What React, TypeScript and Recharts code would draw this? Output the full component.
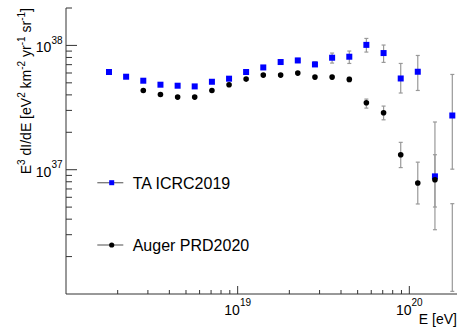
import React from 'react';
import { ScatterChart, Scatter, XAxis, YAxis, ErrorBar, Label } from 'recharts';

// bin centres, log10(E/eV) = 18.25 ... 20.25
const taEnergy = [
  1.78e18, 2.24e18, 2.82e18, 3.55e18, 4.47e18, 5.62e18, 7.08e18, 8.91e18,
  1.12e19, 1.41e19, 1.78e19, 2.24e19, 2.82e19, 3.55e19, 4.47e19, 5.62e19,
  7.08e19, 8.91e19, 1.12e20, 1.41e20, 1.78e20,
];
const taFlux = [
  6.11e37, 5.6e37, 5.2e37, 4.83e37, 4.74e37, 4.68e37, 5.1e37, 5.4e37,
  6.11e37, 6.65e37, 7.35e37, 7.57e37, 7.03e37, 7.96e37, 8.11e37, 1.01e38,
  8.68e37, 5.42e37, 6.14e37, 8.84e36, 2.73e37,
];
const taLow = [
  5.95e37, 5.46e37, 5.07e37, 4.71e37, 4.62e37, 4.56e37, 4.97e37, 5.26e37,
  5.94e37, 6.45e37, 7.1e37, 7.28e37, 6.78e37, 7.21e37, 7.16e37, 8.84e37,
  7.3e37, 4.14e37, 4.34e37, 3.29e36, 1.01e37,
];
const taHigh = [
  6.27e37, 5.74e37, 5.33e37, 4.95e37, 4.86e37, 4.8e37, 5.23e37, 5.54e37,
  6.28e37, 6.85e37, 7.6e37, 7.86e37, 7.39e37, 8.68e37, 9.01e37, 1.138e38,
  1.007e38, 7.16e37, 8.3e37, 2.42e37, 5.84e37,
];

// log10(E/eV) = 18.45 ... 20.25 ; last bin is empty (only an upper bar shows)
const augerEnergy = [
  2.82e18, 3.55e18, 4.47e18, 5.62e18, 7.08e18, 8.91e18, 1.12e19, 1.41e19,
  1.78e19, 2.24e19, 2.82e19, 3.55e19, 4.47e19, 5.62e19, 7.08e19, 8.91e19,
  1.12e20, 1.41e20, 1.78e20,
];
const augerFlux = [
  4.34e37, 4.03e37, 3.84e37, 3.84e37, 4.34e37, 4.83e37, 5.36e37, 5.77e37,
  5.77e37, 5.99e37, 5.56e37, 5.56e37, 5.33e37, 3.46e37, 2.87e37, 1.32e37,
  7.82e36, 8.31e36, 1e35,
];
const augerLow = [
  4.24e37, 3.93e37, 3.75e37, 3.75e37, 4.24e37, 4.72e37, 5.24e37, 5.63e37,
  5.63e37, 5.84e37, 5.4e37, 5.38e37, 5.12e37, 3.13e37, 2.52e37, 1.04e37,
  5.3e36, 5.01e36, 1.05e36,
];
const augerHigh = [
  4.44e37, 4.13e37, 3.93e37, 3.93e37, 4.44e37, 4.94e37, 5.48e37, 5.91e37,
  5.91e37, 6.14e37, 5.72e37, 5.74e37, 5.54e37, 3.7e37, 3.25e37, 1.66e37,
  1.15e37, 1.32e37, 5.33e36,
];

const xTicks = [
  2e18, 3e18, 4e18, 5e18, 6e18, 7e18, 8e18, 9e18, 1e19,
  2e19, 3e19, 4e19, 5e19, 6e19, 7e19, 8e19, 9e19, 1e20, 2e20,
];
const yTicks = [
  2e36, 3e36, 4e36, 5e36, 6e36, 7e36, 8e36, 9e36, 1e37,
  2e37, 3e37, 4e37, 5e37, 6e37, 7e37, 8e37, 9e37, 1e38, 2e38,
];

const taData = taEnergy.map((e, i) => ({
  e,
  flux: taFlux[i],
  err: [taFlux[i] - taLow[i], taHigh[i] - taFlux[i]],
}));
const augerData = augerEnergy.map((e, i) => ({
  e,
  flux: augerFlux[i],
  err: [augerFlux[i] - augerLow[i], augerHigh[i] - augerFlux[i]],
}));

const font = '"Liberation Sans", Arial, Helvetica, sans-serif';
const axisColor = '#333';
const barColor = '#999';

const decade = (v: number) => {
  const l = Math.log10(v);
  return Math.abs(l - Math.round(l)) < 1e-6 ? Math.round(l) : null;
};

const XTick = (props: any) => {
  const { x, y, payload } = props;
  const exp = decade(payload.value);
  return (
    <g>
      <line x1={x} x2={x} y1={y} y2={y - (exp !== null ? 8 : 4)} stroke={axisColor} />
      {exp !== null && (
        <text x={x} y={y + 21} textAnchor="middle" fontSize={14} fontFamily={font} fill="#000">
          <tspan>10</tspan>
          <tspan dy={-9} fontSize={10}>{exp}</tspan>
        </text>
      )}
    </g>
  );
};

const YTick = (props: any) => {
  const { x, y, payload } = props;
  const exp = decade(payload.value);
  return (
    <g>
      <line x1={x} x2={x + (exp !== null ? 11 : 6)} y1={y} y2={y} stroke={axisColor} />
      {exp !== null && (
        <text x={x - 3.5} y={y + 7} textAnchor="end" fontSize={14} fontFamily={font} fill="#000">
          <tspan>10</tspan>
          <tspan dy={-8.5} fontSize={10}>{exp}</tspan>
        </text>
      )}
    </g>
  );
};

const YTitle = () => (
  <text x={31} y={8} transform="rotate(-90 31 8)" textAnchor="end" fontSize={14} fontFamily={font} fill="#000">
    <tspan>E</tspan>
    <tspan dy={-6} fontSize={10}>3</tspan>
    <tspan dy={6}> dI/dE [eV</tspan>
    <tspan dy={-6} fontSize={10}>2</tspan>
    <tspan dy={6}> km</tspan>
    <tspan dy={-6} fontSize={10}>-2</tspan>
    <tspan dy={6}> yr</tspan>
    <tspan dy={-6} fontSize={10}>-1</tspan>
    <tspan dy={6}> sr</tspan>
    <tspan dy={-6} fontSize={10}>-1</tspan>
    <tspan dy={6}>]</tspan>
  </text>
);

const LegendBox = () => (
  <svg width={170} height={90} style={{ position: 'absolute', left: 95, top: 168 }}>
    <line x1={2.3} x2={28.3} y1={14.7} y2={14.7} stroke="#777" strokeWidth={1.3} />
    <rect x={14.2} y={12.2} width={5} height={5} fill="#0000ff" />
    <text x={37.7} y={20.5} fontSize={16} fontFamily={font} fill="#000">TA ICRC2019</text>
    <line x1={2.3} x2={28.3} y1={77} y2={77} stroke="#777" strokeWidth={1.3} />
    <circle cx={16.7} cy={77} r={2.6} fill="#000" />
    <text x={37.7} y={82.5} fontSize={16} fontFamily={font} fill="#000">Auger PRD2020</text>
  </svg>
);

export default function App() {
  return (
    <div style={{ position: 'absolute', left: 0, top: 0, width: 457, height: 329, overflow: 'hidden', background: '#fff' }}>
      <ScatterChart width={462} height={329} margin={{ top: 8, right: 1, bottom: 0, left: 0 }}>
        <XAxis
          dataKey="e"
          type="number"
          scale="log"
          domain={[1e18, 2e20]}
          allowDataOverflow
          ticks={xTicks}
          interval={0}
          height={35}
          tickSize={0}
          tickMargin={0}
          tickLine={false}
          axisLine={{ stroke: axisColor }}
          tick={XTick}
        >
          <Label
            content={() => (
              <text x={457} y={324} textAnchor="end" fontSize={14} fontFamily={font} fill="#000">E [eV]</text>
            )}
          />
        </XAxis>
        <XAxis
          xAxisId="top"
          orientation="top"
          type="number"
          scale="log"
          domain={[1e18, 2e20]}
          allowDataOverflow
          height={0}
          tick={false}
          tickLine={false}
          axisLine={{ stroke: axisColor }}
        />
        <YAxis
          dataKey="flux"
          type="number"
          scale="log"
          domain={[1e36, 2e38]}
          allowDataOverflow
          ticks={yTicks}
          interval={0}
          width={66}
          tickSize={0}
          tickMargin={0}
          tickLine={false}
          axisLine={{ stroke: axisColor }}
          tick={YTick}
        >
          <Label content={YTitle} />
        </YAxis>
        <Scatter
          name="TA ICRC2019"
          data={taData}
          isAnimationActive={false}
          shape={(p: any) => <rect x={p.cx - 3} y={p.cy - 3} width={6} height={6} fill="#0000ff" />}
        >
          <ErrorBar dataKey="err" direction="y" width={2} stroke={barColor} strokeWidth={1.2} />
        </Scatter>
        <Scatter
          name="Auger PRD2020"
          data={augerData}
          isAnimationActive={false}
          shape={(p: any) => <circle cx={p.cx} cy={p.cy} r={2.8} fill="#000" />}
        >
          <ErrorBar dataKey="err" direction="y" width={2} stroke={barColor} strokeWidth={1.2} />
        </Scatter>
      </ScatterChart>
      <LegendBox />
    </div>
  );
}
